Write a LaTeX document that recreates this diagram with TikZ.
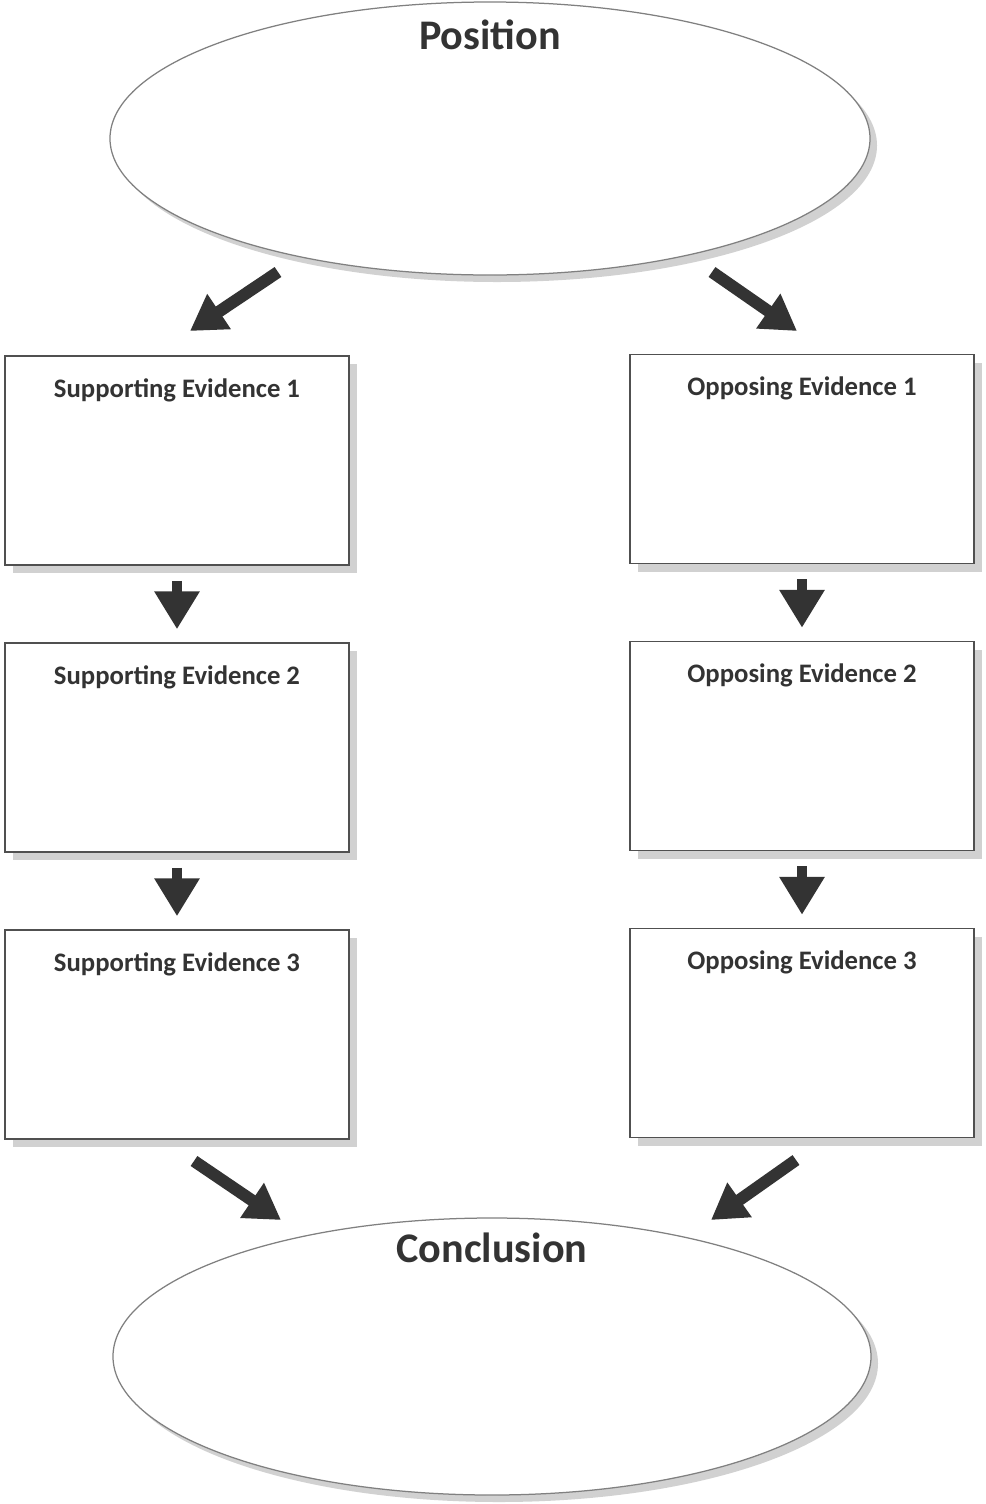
\documentclass[tikz,border=0pt]{standalone}
\usepackage{fontspec}
\setmainfont{Carlito}
\usetikzlibrary{shapes.geometric,arrows.meta,shadows}
\definecolor{inkgray}{HTML}{333333}
\definecolor{edgegray}{HTML}{505050}
\newcommand{\boxfont}{\fontsize{15.2}{18}\selectfont\bfseries}
\newcommand{\titlefont}{\fontsize{24}{28}\selectfont\bfseries}

\begin{document}
\begin{tikzpicture}[x=0.2mm, y=-0.2mm, node distance=5.74cm,
	bubble/.style={draw=gray, line width=0.25mm, ellipse, fill=white,
		drop shadow={shadow xshift=1.4mm, shadow yshift=-1.4mm, fill=black!18, opacity=1}},
	evbox/.style={draw=edgegray, line width=0.3mm, rectangle, fill=white,
		minimum width=6.88cm, minimum height=4.18cm,
		drop shadow={shadow xshift=1.6mm, shadow yshift=-1.6mm, fill=black!18, opacity=1}},
	boxtitle/.style={anchor=base, yshift=-8.4mm, text=inkgray, font=\boxfont},
	fatarrow/.style={draw=inkgray, line width=2.4mm, -{Triangle[length=7mm, width=8mm]}},
	downarrow/.style={draw=inkgray, line width=2mm, -{Triangle[length=7.6mm, width=8.6mm]}}]
				\fill[white] (0,0) rectangle (985,1504);
				\useasboundingbox (0,0) rectangle (985,1504);
				% position and conclusion
				\node[bubble, minimum width=15.2cm, minimum height=5.46cm,
					label={[anchor=base, yshift=-9.6mm, text=inkgray, font=\titlefont]north:Position}] (pos) at (490,138.5) {};
				\node[bubble, minimum width=15.16cm, minimum height=5.54cm,
					label={[anchor=base, yshift=-9mm, text=inkgray, font=\titlefont]north:Conclusion}] (concl) at (492,1356.5) {};
				% evidence boxes
				\node[evbox, label={[boxtitle]north:Supporting Evidence 1}] (sup1) at (177,460.5) {};
				\node[evbox, below of=sup1, label={[boxtitle]north:Supporting Evidence 2}] (sup2) {};
				\node[evbox, below of=sup2, label={[boxtitle]north:Supporting Evidence 3}] (sup3) {};
				\node[evbox, label={[boxtitle]north:Opposing Evidence 1}] (opp1) at (802,459) {};
				\node[evbox, below of=opp1, label={[boxtitle]north:Opposing Evidence 2}] (opp2) {};
				\node[evbox, below of=opp2, label={[boxtitle]north:Opposing Evidence 3}] (opp3) {};
				% free arrow ends
				\coordinate (possw) at (278,272);
				\coordinate (posse) at (712,272);
				\coordinate (sup1in) at (190,331);
				\coordinate (opp1in) at (797,331);
				\coordinate (sup3out) at (194,1161);
				\coordinate (opp3out) at (796,1160);
				\coordinate (conclw) at (281,1220);
				\coordinate (concle) at (711,1220);
				\draw[fatarrow] (possw) -- (sup1in);
				\draw[fatarrow] (posse) -- (opp1in);
				\draw[downarrow, shorten <=3mm, shorten >=2.6mm] (sup1) -- (sup2);
				\draw[downarrow, shorten <=3mm, shorten >=2.6mm] (sup2) -- (sup3);
				\draw[downarrow, shorten <=3mm, shorten >=2.6mm] (opp1) -- (opp2);
				\draw[downarrow, shorten <=3mm, shorten >=2.6mm] (opp2) -- (opp3);
				\draw[fatarrow] (sup3out) -- (conclw);
				\draw[fatarrow] (opp3out) -- (concle);
			\end{tikzpicture}
\end{document}
